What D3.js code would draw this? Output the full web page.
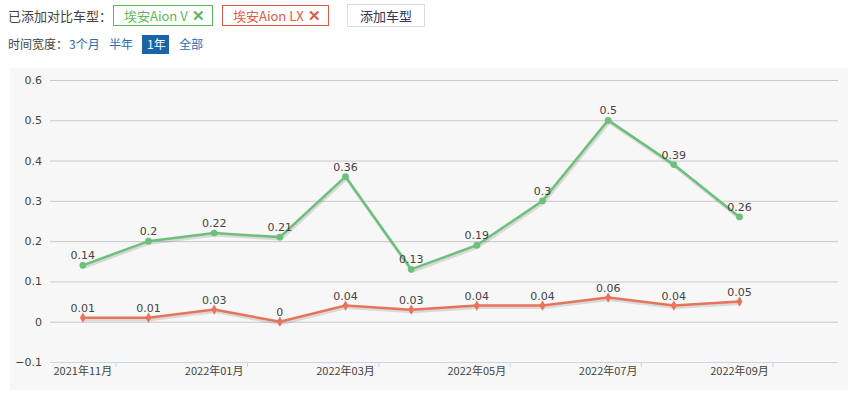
<!DOCTYPE html>
<html><head><meta charset="utf-8">
<script src="https://cdn.jsdelivr.net/npm/d3@7"></script>
<style>
body{margin:0;font-family:"Noto Sans CJK SC","Noto Sans",sans-serif;background:#fff;}
</style></head><body>
<svg id="c" width="858" height="403"></svg>
<script>
const months = ["2021年11月","2021年12月","2022年01月","2022年02月","2022年03月","2022年04月","2022年05月","2022年06月","2022年07月","2022年08月","2022年09月","2022年10月"];
const aionV = [0.14,0.2,0.22,0.21,0.36,0.13,0.19,0.3,0.5,0.39,0.26];
const aionLX = [0.01,0.01,0.03,0,0.04,0.03,0.04,0.04,0.06,0.04,0.05];
const yTicks = [-0.1,0,0.1,0.2,0.3,0.4,0.5,0.6];

const svg = d3.select("#c");
const font = "'Noto Sans CJK SC','Noto Sans',sans-serif";

// top controls
svg.append("text").attr("x",8).attr("y",21).attr("font-size",13).attr("fill","#444").attr("font-family",font).text("已添加对比车型：");
const tags = [{x:113,w:99,t:"埃安Aion V",c:"#5cb85c"},{x:222,w:106,t:"埃安Aion LX",c:"#e05a47"}];
tags.forEach(d => {
  svg.append("rect").attr("x",d.x+0.5).attr("y",5.5).attr("width",d.w).attr("height",20).attr("fill","#fff").attr("stroke",d.c);
  svg.append("text").attr("x",d.x+11).attr("y",21).attr("font-size",13).attr("fill",d.c).attr("font-family",font).text(d.t);
  svg.append("text").attr("x",d.x+d.w-7).attr("y",21).attr("text-anchor","end").attr("font-size",15).attr("font-weight","bold").attr("fill",d.c).attr("font-family",font).text("✕");
});
svg.append("rect").attr("x",347.5).attr("y",4.5).attr("width",77).attr("height",22).attr("fill","#fff").attr("stroke","#ddd");
svg.append("text").attr("x",386).attr("y",21).attr("text-anchor","middle").attr("font-size",13).attr("fill","#335").attr("font-family",font).text("添加车型");
svg.append("text").attr("x",8).attr("y",49).attr("font-size",12).attr("fill","#444").attr("font-family",font).text("时间宽度：");
[{x:69,t:"3个月"},{x:109,t:"半年"},{x:147,t:"1年",sel:true},{x:179,t:"全部"}].forEach(d => {
  if (d.sel) svg.append("rect").attr("x",d.x-5).attr("y",35).attr("width",27).attr("height",19).attr("fill","#1a64a8");
  svg.append("text").attr("x",d.x).attr("y",49).attr("font-size",12).attr("fill",d.sel?"#fff":"#2a6cb0").attr("font-family",font).text(d.t);
});

// chart panel
svg.append("rect").attr("x",10).attr("y",68).attr("width",838).attr("height",322).attr("fill","#f7f7f7");

const x = d3.scaleBand().domain(months).range([50,838]);
const y = d3.scaleLinear().domain([-0.1,0.6]).range([362,80]);
const cx = i => x(months[i]) + x.bandwidth()/2;

const grid = svg.append("g");
yTicks.forEach(t => {
  grid.append("line").attr("x1",50).attr("x2",838).attr("y1",y(t)+0.5).attr("y2",y(t)+0.5)
    .attr("stroke", t===-0.1 ? "#c8d6e8" : "#c8c8c8");
  grid.append("text").attr("x",42).attr("y",y(t)+4).attr("text-anchor","end").attr("font-size",11).attr("fill","#444").attr("font-family","DejaVu Sans").text(t===-0.1?"−0.1":t);
});

// x ticks/labels every 2 months
months.forEach((m,i) => {
  if (i%2) return;
  svg.append("line").attr("x1",x(m)+x.bandwidth()+0.5).attr("x2",x(m)+x.bandwidth()+0.5).attr("y1",362).attr("y2",367).attr("stroke","#c8d6e8");
  svg.append("text").attr("x",cx(i)).attr("y",375).attr("text-anchor","middle").attr("font-size",11).attr("fill","#444").attr("font-family",font).text(m);
});

const line = d3.line().x((d,i) => cx(i)).y(d => y(d));
function series(data, color, sym) {
  const g = svg.append("g");
  g.append("path").attr("d",line(data)).attr("fill","none").attr("stroke","rgba(0,0,0,0.12)").attr("stroke-width",3).attr("transform","translate(1,2)");
  g.append("path").attr("d",line(data)).attr("fill","none").attr("stroke",color).attr("stroke-width",2.5);
  g.selectAll("path.pt").data(data).enter().append("path").attr("class","pt")
    .attr("d",d3.symbol().type(sym).size(sym===d3.symbolDiamond?30:36))
    .attr("transform",(d,i)=>`translate(${cx(i)},${y(d)})`).attr("fill",color);
  g.selectAll("text").data(data).enter().append("text")
    .attr("x",(d,i)=>cx(i)).attr("y",d=>y(d)-6).attr("text-anchor","middle")
    .attr("font-size",11).attr("fill","#444").attr("font-family","DejaVu Sans").text(d=>d);
}
series(aionV,"#6cc07a",d3.symbolCircle);
series(aionLX,"#e8735a",d3.symbolDiamond);
</script></body></html>
